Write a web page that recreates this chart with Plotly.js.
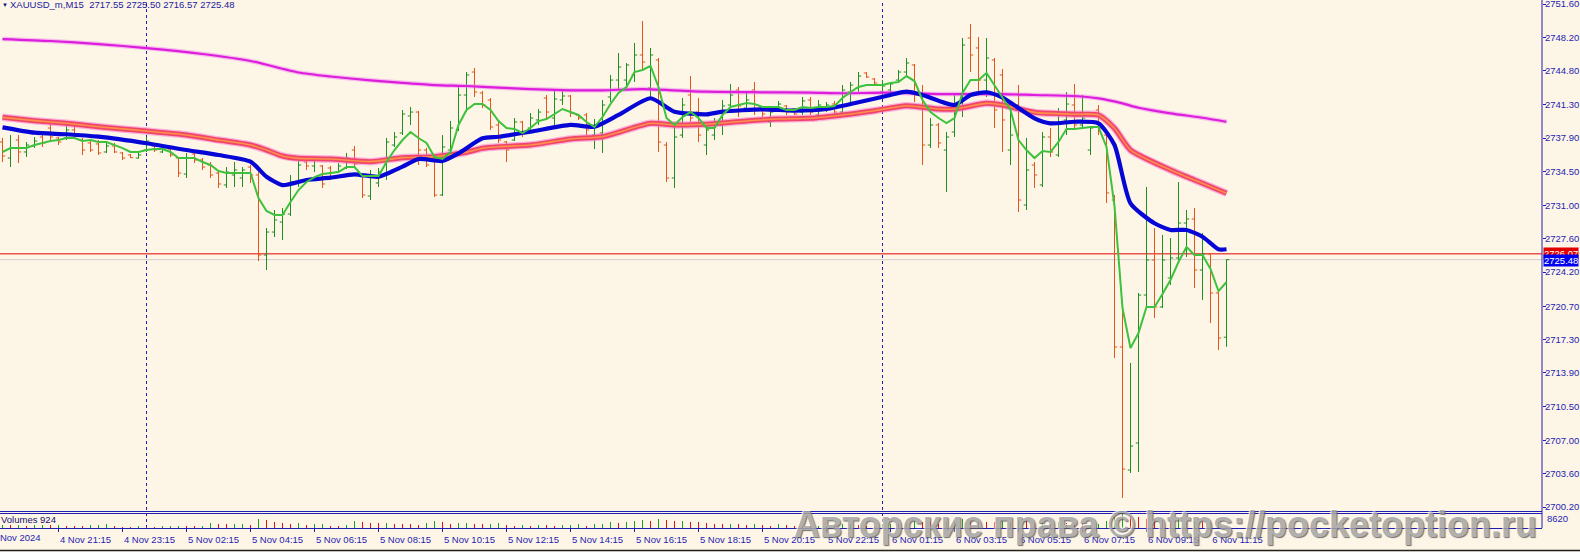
<!DOCTYPE html>
<html>
<head>
<meta charset="utf-8">
<script src="https://cdn.plot.ly/plotly-3.0.1.min.js"></script>
<style>
html,body{margin:0;padding:0;background:#FDF5E6;overflow:hidden}
#chart{width:1580px;height:552px}
</style>
</head>
<body>
<div id="chart"></div>
<script>
// ---------- data ----------
const headerText = "XAUUSD_m,M15  2717.55 2725.50 2716.57 2725.48";
const firstDateLabel = "4 Nov 2024";
const volumesLabel = "Volumes 924";
const volumeMaxLabel = "8620";
const askPrice = 2726.07;
const bidPrice = 2725.48;
const daySeparators = [18, 110];

const tickIdx = [7,15,23,31,39,47,55,63,71,79,87,95,103,111,119,127,135,143,151];
const tickText = ["4 Nov 21:15","4 Nov 23:15","5 Nov 02:15","5 Nov 04:15","5 Nov 06:15","5 Nov 08:15",
  "5 Nov 10:15","5 Nov 12:15","5 Nov 14:15","5 Nov 16:15","5 Nov 18:15","5 Nov 20:15","5 Nov 22:15",
  "6 Nov 01:15","6 Nov 03:15","6 Nov 05:15","6 Nov 07:15","6 Nov 09:15","6 Nov 11:15"];
const priceTicks = [2751.60,2748.20,2744.80,2741.30,2737.90,2734.50,2731.00,2727.60,2724.20,2720.70,2717.30,2713.90,2710.50,2707.00,2703.60,2700.20];

const open = [
2737.50,2735.86,2737.70,2736.48,2737.09,2738.01,2738.93,2737.91,2737.91,2738.73,
2737.70,2737.40,2737.30,2736.48,2737.09,2736.38,2736.17,2735.86,2736.68,2737.09,
2736.48,2736.78,2735.86,2734.23,2736.27,2735.66,2735.15,2734.33,2733.11,2734.13,
2733.82,2734.94,2734.13,2725.95,2728.30,2729.32,2730.14,2733.41,2735.45,2735.05,
2735.05,2734.84,2734.43,2734.84,2736.68,2734.02,2731.98,2733.31,2734.13,2737.19,
2738.42,2740.16,2740.56,2736.68,2735.66,2732.08,2736.68,2738.73,2742.30,2744.65,
2742.51,2741.79,2739.24,2737.50,2737.70,2739.54,2738.93,2739.75,2741.99,2739.95,
2741.79,2742.20,2740.26,2740.26,2738.21,2738.42,2742.10,2743.83,2743.83,2744.35,
2746.39,2743.02,2745.88,2737.19,2733.82,2738.21,2742.30,2740.56,2737.19,2738.21,
2739.24,2741.28,2742.81,2740.97,2742.81,2740.97,2739.54,2740.77,2741.18,2740.87,
2740.56,2741.79,2740.26,2740.77,2741.38,2740.56,2742.61,2743.02,2744.55,2743.94,
2742.61,2742.81,2743.83,2744.65,2745.37,2742.20,2737.19,2739.24,2736.68,2738.52,
2740.97,2748.13,2747.11,2743.83,2745.88,2744.35,2736.68,2741.28,2731.06,2735.15,
2733.11,2738.01,2736.17,2739.75,2741.28,2739.24,2736.68,2740.77,2738.21,2731.57,
2716.55,2703.98,2706.74,2721.86,2725.44,2720.64,2723.60,2725.65,2729.22,2729.63,
2724.42,2726.05,2722.07,2717.55];
const high = [
2737.91,2738.21,2738.21,2737.50,2738.01,2738.42,2739.44,2738.01,2739.24,2739.24,
2737.91,2737.70,2737.70,2737.40,2737.40,2736.48,2736.27,2736.38,2738.01,2737.19,
2736.99,2736.89,2735.97,2736.38,2736.48,2735.86,2735.45,2734.64,2734.94,2735.45,
2734.94,2735.15,2734.43,2728.71,2730.55,2730.75,2734.13,2735.86,2735.97,2735.97,
2735.15,2735.05,2735.35,2736.38,2737.09,2734.13,2734.64,2734.84,2737.91,2738.52,
2740.77,2741.08,2740.67,2736.89,2735.97,2738.21,2739.65,2743.32,2744.65,2745.06,
2742.71,2741.99,2739.65,2737.60,2739.95,2739.65,2740.46,2740.87,2742.30,2742.81,
2742.81,2742.30,2740.36,2740.46,2739.85,2741.79,2744.35,2746.59,2745.57,2747.62,
2749.86,2747.11,2746.08,2737.50,2739.44,2741.99,2744.24,2741.99,2739.03,2739.95,
2741.79,2743.43,2743.12,2742.51,2743.63,2741.08,2740.77,2741.69,2741.28,2740.97,
2742.10,2742.10,2741.79,2741.59,2741.69,2743.32,2743.63,2744.65,2744.65,2744.04,
2743.83,2743.63,2744.86,2746.08,2745.47,2743.32,2739.95,2739.44,2738.52,2742.30,
2748.13,2749.56,2748.23,2748.13,2746.08,2744.96,2741.28,2743.32,2737.91,2735.45,
2738.52,2738.93,2740.97,2742.61,2743.43,2742.30,2739.03,2741.28,2738.52,2732.08,
2720.54,2714.92,2722.07,2732.90,2728.71,2728.00,2727.69,2733.41,2730.55,2730.75,
2728.20,2726.16,2722.17,2725.50];
const low = [
2735.45,2734.94,2735.35,2735.97,2736.89,2736.99,2737.70,2737.19,2737.70,2737.91,
2736.17,2736.48,2736.17,2736.38,2736.38,2735.66,2735.86,2735.80,2736.48,2736.48,
2736.38,2735.97,2733.92,2733.82,2735.35,2734.64,2733.82,2732.80,2732.80,2732.90,
2732.90,2733.31,2725.34,2724.42,2727.79,2727.48,2729.94,2732.90,2734.64,2734.43,
2732.80,2733.62,2734.40,2734.74,2734.94,2731.78,2731.57,2732.90,2733.62,2736.99,
2738.21,2739.24,2735.15,2734.94,2731.88,2731.98,2735.86,2738.62,2740.56,2742.10,
2740.97,2738.73,2737.40,2735.45,2737.60,2738.01,2738.73,2739.24,2739.95,2739.03,
2741.28,2740.05,2739.75,2738.21,2736.78,2736.38,2741.59,2742.81,2743.12,2743.63,
2744.86,2741.99,2736.48,2733.41,2732.80,2737.91,2739.54,2737.50,2736.17,2737.70,
2738.21,2740.97,2740.05,2740.56,2740.26,2740.05,2739.03,2740.56,2740.26,2740.26,
2740.26,2740.26,2739.75,2740.56,2740.26,2740.46,2741.48,2742.61,2744.04,2743.32,
2742.10,2742.30,2743.53,2744.14,2741.59,2735.15,2736.89,2736.89,2732.39,2738.01,
2740.05,2744.65,2742.61,2742.10,2738.93,2736.48,2735.15,2730.35,2730.55,2732.80,
2732.90,2735.97,2735.97,2738.21,2738.93,2738.93,2736.17,2738.21,2731.27,2715.43,
2701.12,2703.67,2703.78,2720.64,2719.51,2720.54,2722.89,2725.44,2725.75,2722.58,
2721.35,2719.00,2716.24,2716.57];
const close = [
2736.07,2736.89,2736.48,2737.19,2737.60,2737.40,2738.01,2737.50,2738.73,2738.21,
2736.68,2736.68,2736.38,2737.09,2736.48,2735.86,2735.90,2736.17,2737.60,2736.68,
2736.89,2736.17,2734.33,2735.86,2735.66,2734.94,2734.13,2733.21,2734.43,2734.64,
2734.64,2734.13,2725.95,2728.30,2729.53,2730.14,2733.41,2735.15,2735.05,2735.66,
2733.21,2733.92,2735.05,2735.86,2735.25,2732.08,2734.02,2734.43,2737.50,2738.01,
2740.36,2740.56,2736.68,2735.15,2732.08,2736.99,2738.93,2742.30,2744.35,2742.61,
2741.28,2739.03,2737.70,2736.68,2739.54,2738.52,2739.95,2740.56,2740.56,2741.89,
2742.20,2740.46,2739.95,2738.73,2739.24,2741.28,2743.83,2745.16,2745.37,2746.39,
2745.67,2746.39,2737.50,2733.82,2738.01,2741.28,2739.95,2738.21,2738.73,2739.24,
2741.18,2742.30,2741.18,2741.79,2740.77,2740.36,2740.56,2741.38,2740.56,2740.36,
2741.69,2740.56,2741.28,2741.28,2740.56,2742.81,2743.32,2744.24,2744.14,2743.53,
2743.22,2743.43,2744.65,2745.57,2742.30,2737.19,2739.24,2737.40,2738.01,2740.97,
2747.41,2746.39,2743.83,2746.08,2740.77,2739.75,2738.21,2731.57,2734.64,2734.13,
2738.01,2736.48,2739.54,2741.38,2739.24,2739.95,2738.93,2738.93,2732.29,2716.55,
2704.08,2706.43,2721.86,2725.44,2720.64,2725.44,2725.65,2729.22,2729.63,2724.42,
2726.05,2722.07,2717.47,2725.48];

const maFast = [
2736.48,2736.88,2736.88,2736.88,2737.19,2737.40,2737.60,2737.70,2737.91,2737.91,
2737.60,2737.70,2737.50,2737.50,2737.19,2736.88,2736.48,2736.48,2736.68,2736.78,
2736.78,2736.48,2735.86,2735.86,2735.86,2735.45,2735.15,2734.53,2734.33,2734.33,
2734.33,2734.33,2731.78,2730.45,2730.04,2730.04,2731.37,2732.59,2733.41,2733.92,
2734.23,2734.33,2734.43,2734.94,2734.94,2734.02,2734.02,2734.02,2735.45,2736.68,
2737.70,2738.52,2737.91,2737.40,2735.96,2735.76,2736.48,2739.24,2740.77,2741.38,
2741.38,2740.77,2739.64,2738.93,2738.83,2738.42,2738.93,2739.64,2739.85,2740.36,
2740.87,2740.56,2740.26,2739.54,2739.03,2740.05,2741.38,2742.51,2743.12,2744.65,
2744.86,2745.27,2743.12,2739.95,2739.24,2740.05,2740.56,2739.95,2738.93,2738.93,
2740.26,2741.08,2741.28,2741.48,2741.38,2741.08,2741.08,2741.08,2740.77,2740.77,
2741.08,2740.97,2741.08,2741.08,2741.18,2741.99,2742.61,2743.12,2743.32,2743.32,
2743.32,2743.53,2743.63,2744.24,2743.73,2741.79,2740.56,2739.95,2739.44,2739.95,
2742.51,2743.83,2743.83,2744.55,2743.32,2742.10,2740.77,2737.70,2736.68,2735.86,
2736.58,2736.48,2737.50,2738.83,2738.83,2738.93,2739.03,2739.03,2736.99,2730.96,
2720.54,2716.45,2717.98,2720.64,2720.64,2721.97,2723.40,2725.24,2726.77,2725.95,
2725.95,2724.52,2722.27,2723.19];

const maMedIdx = [0,4,8,12,18,23,27,31,33,35,38,41,44,47,50,52,55,57,60,62,66,71,74,77,81,84,88,90,95,99,103,107,111,113,115,119,121,123,125,129,131,134,137,139,141,144,146,148,150,152,153];
const maMed = [2739.00,2738.45,2738.29,2738.04,2737.37,2736.68,2736.17,2735.49,2733.95,2733.10,
2733.62,2733.85,2734.20,2733.95,2734.98,2735.76,2735.56,2736.34,2737.88,2738.04,
2738.55,2739.24,2739.06,2740.26,2741.97,2740.60,2740.33,2740.60,2740.84,2740.70,
2740.87,2741.56,2742.30,2742.64,2742.30,2741.28,2742.30,2742.58,2742.03,2739.92,
2739.41,2739.57,2739.41,2737.19,2731.23,2729.19,2728.51,2728.51,2727.82,2726.54,2726.54];

const maSlowIdx = [0,4,8,12,18,23,27,31,33,35,37,41,46,50,54,58,60,62,66,71,75,77,81,84,88,93,97,101,105,109,113,117,119,123,125,129,134,137,139,141,146,149,153];
const maSlow = [2740.02,2739.68,2739.41,2739.06,2738.62,2738.22,2737.70,2737.19,2736.68,2736.07,
2735.83,2735.76,2735.49,2735.90,2736.00,2736.45,2736.86,2737.02,2737.19,2737.81,
2738.04,2738.49,2739.41,2739.24,2739.31,2739.65,2739.85,2739.92,2740.26,2740.70,
2741.21,2740.87,2740.87,2741.45,2741.28,2740.53,2740.33,2740.26,2738.90,2736.68,
2734.64,2733.62,2732.26];

const maLongIdx = [0,6,12,18,25,31,37,41,46,50,54,58,62,66,70,75,80,88,95,101,105,111,117,125,129,134,137,140,142,146,150,153];
const maLong = [2748.02,2747.82,2747.51,2747.10,2746.49,2745.78,2744.60,2744.19,2743.80,2743.55,
2743.32,2743.22,2743.05,2742.91,2742.81,2742.78,2742.91,2742.64,2742.58,2742.54,
2742.48,2742.54,2742.40,2742.40,2742.30,2742.20,2741.96,2741.45,2741.00,2740.43,
2739.98,2739.57];

const volume = [
1920,1720,1910,1530,1720,1900,1700,1910,1540,1520,
1500,1900,1910,2300,1150,770,760,1150,770,760,
1150,1160,1530,1520,1150,1540,2870,2680,2300,2680,
2690,1920,5750,4790,3450,2870,2300,2880,1920,2300,
2310,1530,1520,1920,4210,3450,2870,2860,2870,2680,
2300,2290,1920,2870,4210,3450,2300,2870,2880,2300,
2290,2300,2870,1920,1530,1920,1520,1920,1910,1530,
1920,1930,2300,1530,2300,2310,3450,2870,3830,4210,
4790,4210,5750,4790,4210,4220,3830,3450,2870,2680,
2300,2680,2300,1920,2300,1910,1530,2300,1920,1530,
1530,1150,1530,1540,1920,2300,2680,1920,1530,1150,
2300,2680,2300,3060,4210,3830,3450,2680,3830,4210,
5360,4790,4210,3830,3450,4210,3830,4790,4210,2870,
3450,2680,3450,3060,2870,2300,2310,2680,4210,6700,
8620,7280,6700,5750,5360,4790,4210,4790,3830,4210,
3450,3830,3450,924];

// ---------- drawing ----------
const BG = '#FDF5E6';
const AX = '#1E1EB4';
const idx = open.map((_, i) => i);
const volColors = volume.map((v, i) => (i === 0 || v > volume[i-1]) ? '#1E9E1E' : '#E01010');

const W = 1580, H = 552, ML = 0, MR = 38, MT = 0, MB = 24;
const plotW = W - ML - MR, plotH = H - MT - MB;   // 1542 x 528
const px2py = y => (plotH - y) / plotH;            // pixel row -> paper y
const px2px = x => x / plotW;

const traces = [
  {type:'ohlc', x: idx, open, high, low, close, xaxis:'x', yaxis:'y',
   increasing:{line:{color:'#1F8F1F', width:1}}, decreasing:{line:{color:'#E2561A', width:1}},
   tickwidth:0.34, hoverinfo:'skip'},
  {type:'scatter', mode:'lines', x: maLongIdx, y: maLong, xaxis:'x', yaxis:'y',
   line:{color:'rgba(240,120,240,0.45)', width:4.5, shape:'spline', smoothing:0.6}, hoverinfo:'skip'},
  {type:'scatter', mode:'lines', x: maLongIdx, y: maLong, xaxis:'x', yaxis:'y',
   line:{color:'#DC1EDC', width:2.2, shape:'spline', smoothing:0.6}, hoverinfo:'skip'},
  {type:'scatter', mode:'lines', x: maSlowIdx, y: maSlow, xaxis:'x', yaxis:'y',
   line:{color:'rgba(250,110,210,0.5)', width:7.5, shape:'spline', smoothing:0.6}, hoverinfo:'skip'},
  {type:'scatter', mode:'lines', x: maSlowIdx, y: maSlow, xaxis:'x', yaxis:'y',
   line:{color:'#F0456A', width:5, shape:'spline', smoothing:0.6}, hoverinfo:'skip'},
  {type:'scatter', mode:'lines', x: maSlowIdx, y: maSlow, xaxis:'x', yaxis:'y',
   line:{color:'#FF9048', width:1.6, shape:'spline', smoothing:0.6}, hoverinfo:'skip'},
  {type:'scatter', mode:'lines', x: maMedIdx, y: maMed, xaxis:'x', yaxis:'y',
   line:{color:'#0606D6', width:4.2, shape:'spline', smoothing:0.6}, hoverinfo:'skip'},
  {type:'scatter', mode:'lines', x: idx, y: maFast, xaxis:'x', yaxis:'y',
   line:{color:'#3CC23C', width:2}, hoverinfo:'skip'},
  {type:'bar', x: idx, y: volume, xaxis:'x', yaxis:'y2', width:0.125,
   marker:{color: volColors, line:{width:0}}, hoverinfo:'skip'}
];

const xr0 = -2.5/8;
const mainBottomPx = 511, volTopPx = 514;

const shapes = [];
daySeparators.forEach(d => shapes.push({type:'line', xref:'x', yref:'paper', x0:d, x1:d, y0:0, y1:1,
  line:{color:AX, width:1, dash:'3px,3px'}, layer:'below'}));
shapes.push({type:'line', xref:'paper', yref:'y', x0:0, x1:1, y0:bidPrice, y1:bidPrice, line:{color:'#CFCFCF', width:1}, layer:'below'});
shapes.push({type:'line', xref:'paper', yref:'y', x0:0, x1:1, y0:askPrice, y1:askPrice, line:{color:'#E00000', width:1}, layer:'below'});
shapes.push({type:'line', xref:'paper', yref:'paper', x0:0, x1:1, y0:px2py(511.5), y1:px2py(511.5), line:{color:AX, width:1}});
shapes.push({type:'line', xref:'paper', yref:'paper', x0:0, x1:1, y0:px2py(513.5), y1:px2py(513.5), line:{color:AX, width:1}});
shapes.push({type:'line', xref:'paper', yref:'paper', x0:1, x1:1, y0:0, y1:1, line:{color:AX, width:1}});
shapes.push({type:'line', xref:'paper', yref:'paper', x0:-0.01, x1:W/plotW, y0:px2py(550.5), y1:px2py(550.5), line:{color:'#202020', width:1.5}});

const F = 'Liberation Sans, Arial, sans-serif';
const annotations = [
  {xref:'paper', yref:'paper', x:px2px(0), y:px2py(4.5), xanchor:'left', yanchor:'middle', showarrow:false,
   text:'▼', font:{family:F, size:6, color:'#101080'}},
  {xref:'paper', yref:'paper', x:px2px(8), y:px2py(4.5), xanchor:'left', yanchor:'middle', showarrow:false,
   text: headerText, font:{family:F, size:9.5, color:'#1A1AA0'}},
  {xref:'paper', yref:'paper', x:px2px(-1), y:px2py(519.5), xanchor:'left', yanchor:'middle', showarrow:false,
   text: volumesLabel, font:{family:F, size:9.5, color:'#101070'}},
  {xref:'paper', yref:'paper', x:px2px(43), y:px2py(537), xanchor:'right', yanchor:'middle', showarrow:false,
   text: firstDateLabel, font:{family:F, size:9.5, color:AX}},
  {xref:'paper', yref:'paper', x:1, xshift:3, y:px2py(518.5), xanchor:'left', yanchor:'middle', showarrow:false,
   text: volumeMaxLabel, font:{family:F, size:9.5, color:AX}},
  {xref:'paper', yref:'y', x:1, xshift:1, y:askPrice, xanchor:'left', yanchor:'middle', showarrow:false,
   text: askPrice.toFixed(2), bgcolor:'#E00000', borderpad:0, font:{family:F, size:9.5, color:'#FFFFFF'}},
  {xref:'paper', yref:'y', x:1, xshift:1, y:bidPrice, yshift:-0.5, xanchor:'left', yanchor:'middle', showarrow:false,
   text: bidPrice.toFixed(2), bgcolor:'#0000F0', borderpad:0, font:{family:F, size:9.5, color:'#FFFFFF'}},
  {xref:'paper', yref:'paper', x:px2px(792), y:px2py(524), xanchor:'left', yanchor:'middle', showarrow:false,
   text:'<b>Авторские права © https://pocketoption.ru</b>', opacity:0.85,
   font:{family:F, size:36, color:'#A4A4A4', shadow:'1px 1px 1px #5a5a5a, -1px -1px 1px #ffffff'}}
];

const layout = {
  width: W, height: H, margin:{l:ML, r:MR, t:MT, b:MB, pad:0},
  paper_bgcolor: BG, plot_bgcolor: BG, showlegend:false,
  xaxis:{range:[xr0, xr0 + plotW/8], anchor:'y2', showgrid:false, zeroline:false, showline:true,
    linecolor:AX, linewidth:1, ticks:'outside', ticklen:3, tickcolor:AX, tickwidth:1,
    tickmode:'array', tickvals:tickIdx, ticktext:tickText, ticklabelshift:27, ticklabelstandoff:0,
    tickfont:{family:F, size:9.5, color:AX}, rangeslider:{visible:false}, fixedrange:true},
  yaxis:{domain:[px2py(mainBottomPx), 1], range:[2752.01 - mainBottomPx/9.786, 2752.01], side:'right', anchor:'x',
    showgrid:false, zeroline:false, showline:false, ticks:'outside', ticklen:3, tickcolor:AX,
    tickmode:'array', tickvals:priceTicks, ticktext:priceTicks.map(v => v.toFixed(2)),
    ticklabeloverflow:'allow', ticklabelstandoff:-3,
    tickfont:{family:F, size:9.5, color:AX}, automargin:false, fixedrange:true},
  yaxis2:{domain:[0, px2py(volTopPx)], range:[0, 8620], side:'right', anchor:'x', showgrid:false,
    zeroline:false, showline:false, showticklabels:false, ticks:'', fixedrange:true},
  shapes, annotations, bargap:0
};

Plotly.newPlot('chart', traces, layout, {staticPlot:true, displayModeBar:false});
</script>
</body>
</html>
